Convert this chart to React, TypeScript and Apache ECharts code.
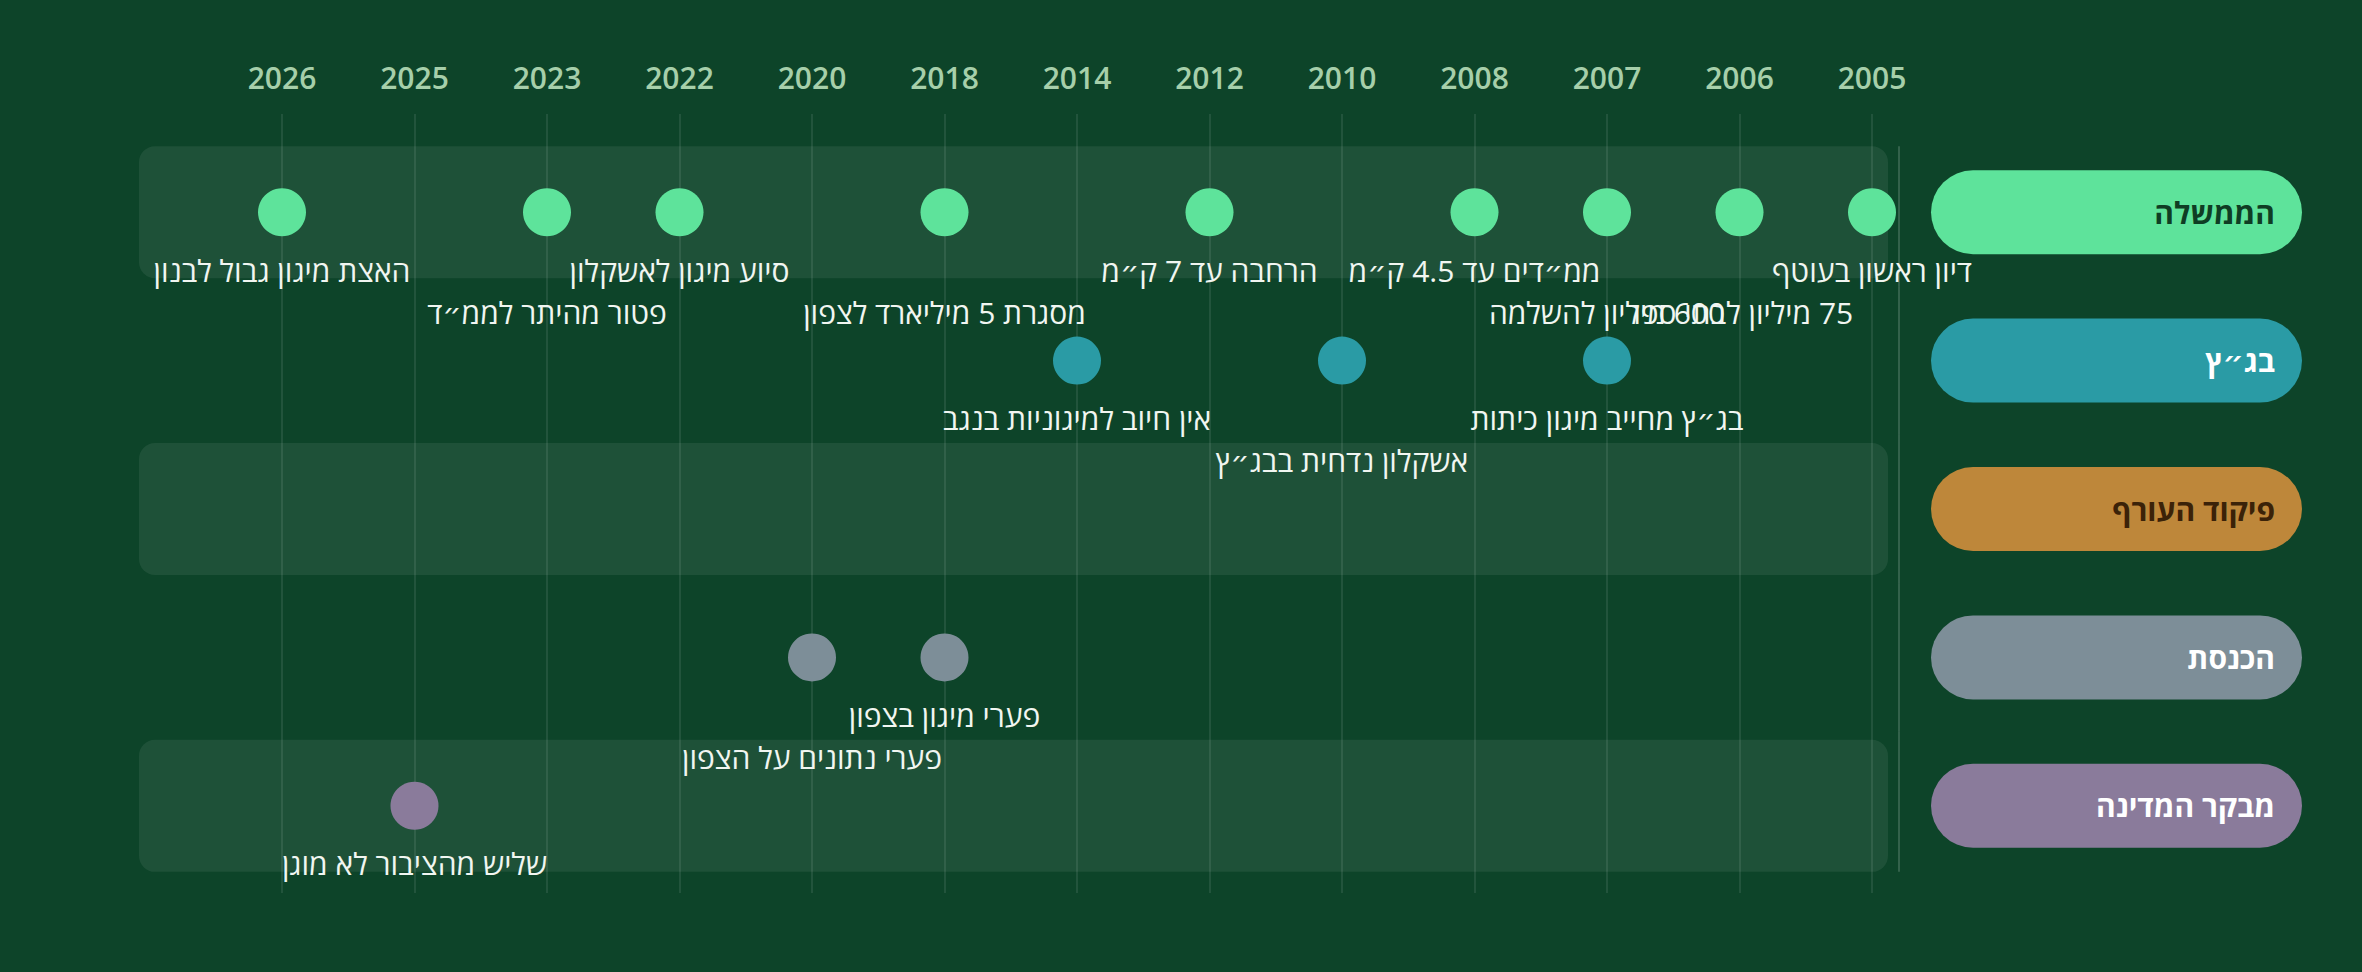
import { useEffect, useRef } from "react";
import * as echarts from "echarts";

const YEARS = ["2005", "2006", "2007", "2008", "2010", "2012", "2014", "2018", "2020", "2022", "2023", "2025", "2026"];
const LANES = ["הממשלה", "בג״ץ", "פיקוד העורף", "הכנסת", "מבקר המדינה"];
const LANE_COLORS = ["#5ee39b", "#2a9ba5", "#be873a", "#7d8e98", "#8a7b9b"];
const LANE_TEXT = ["#0f3d24", "#ffffff", "#3b2208", "#ffffff", "#ffffff"];

// events: year, lane index, caption, caption row (0 = first line, 1 = second line)
const EVENT_YEARS = ["2005", "2006", "2007", "2008", "2012", "2018", "2022", "2023", "2026", "2007", "2010", "2014", "2018", "2020", "2025"];
const EVENT_LANES = [0, 0, 0, 0, 0, 0, 0, 0, 0, 1, 1, 1, 3, 3, 4];
const EVENT_LABELS = [
  "דיון ראשון בעוטף",
  "75 מיליון לבתי ספר",
  "600 מיליון להשלמה",
  "ממ״דים עד 4.5 ק״מ",
  "הרחבה עד 7 ק״מ",
  "מסגרת 5 מיליארד לצפון",
  "סיוע מיגון לאשקלון",
  "פטור מהיתר לממ״ד",
  "האצת מיגון גבול לבנון",
  "בג״ץ מחייב מיגון כיתות",
  "אשקלון נדחית בבג״ץ",
  "אין חיוב למיגוניות בנגב",
  "פערי מיגון בצפון",
  "פערי נתונים על הצפון",
  "שליש מהציבור לא מוגן",
];
const EVENT_ROWS = [0, 1, 1, 0, 0, 1, 0, 1, 0, 0, 1, 0, 0, 1, 0];

const FONT = "'Open Sans', 'DejaVu Sans', sans-serif";
const BG = "#0d4429";
const BAND = "rgba(255,255,255,0.07)";

export default function App() {
  const ref = useRef<HTMLDivElement>(null);
  useEffect(() => {
    if (!ref.current) return;
    const chart = echarts.init(ref.current, null, { renderer: "svg" });

    const rich: Record<string, any> = {};
    LANES.forEach((_, i) => {
      rich["p" + i] = {
        width: 344,
        height: 84,
        lineHeight: 84,
        align: "right",
        padding: [0, 27, 0, 0],
        backgroundColor: LANE_COLORS[i],
        borderRadius: 42,
        color: LANE_TEXT[i],
        fontSize: 30,
        fontWeight: "bold",
        fontFamily: FONT,
      };
    });

    const laneSeries = LANES.map((lane, li) => ({
      type: "scatter",
      name: lane,
      xAxisIndex: 1,
      yAxisIndex: 1,
      symbolSize: 48,
      z: 3,
      itemStyle: { color: LANE_COLORS[li], opacity: 1 },
      label: {
        show: true,
        position: "inside",
        formatter: (p: any) => "\u200F" + p.name,
        color: "#f1f6f1",
        fontSize: 30,
        fontFamily: FONT,
      },
      data: EVENT_YEARS.map((y, k) => ({ k, y }))
        .filter((e) => EVENT_LANES[e.k] === li)
        .map((e) => ({
          name: EVENT_LABELS[e.k],
          value: [e.y, lane],
          label: { offset: [0, EVENT_ROWS[e.k] ? 100 : 58] },
        })),
    }));

    const option: any = {
      animation: false,
      backgroundColor: BG,
      textStyle: { fontFamily: FONT },
      grid: [
        { left: 282, right: 490, top: 114, bottom: 79 },
        { left: 282, right: 490, top: 138, bottom: 92 },
      ],
      xAxis: [
        {
          type: "category",
          gridIndex: 0,
          data: YEARS,
          inverse: true,
          boundaryGap: false,
          position: "top",
          axisLine: { show: false },
          axisTick: { show: false },
          axisLabel: { color: "#a6cfaa", fontSize: 30, fontWeight: 600, margin: 22, fontFamily: FONT },
          splitLine: { show: true, lineStyle: { color: "rgba(255,255,255,0.09)", width: 2 } },
        },
        {
          type: "category",
          gridIndex: 1,
          data: YEARS,
          inverse: true,
          boundaryGap: false,
          show: false,
        },
      ],
      yAxis: [
        { type: "value", gridIndex: 0, show: false, min: 0, max: 1 },
        {
          type: "category",
          gridIndex: 1,
          data: LANES,
          inverse: true,
          position: "right",
          axisLine: { show: false },
          axisTick: { show: false },
          splitLine: { show: false },
          axisLabel: {
            margin: 59,
            formatter: (v: string, i: number) => `{p${i}|${v}}`,
            rich,
          },
        },
      ],
      series: [
        {
          type: "custom",
          xAxisIndex: 1,
          yAxisIndex: 1,
          silent: true,
          z: 1,
          data: LANES.map((_, i) => [0, i]),
          renderItem: (params: any, api: any) => {
            const i = api.value(1);
            const cs = params.coordSys;
            const cy = api.coord([0, i])[1];
            const laneH = api.size([0, 1])[1];
            const half = laneH * 0.445;
            const children: any[] = [];
            if (i % 2 === 0) {
              children.push({
                type: "rect",
                shape: { x: cs.x - 143, y: cy - half, width: cs.width + 159, height: half * 2, r: 16 },
                style: { fill: BAND },
              });
            }
            const sx = cs.x + cs.width + 27;
            children.push({
              type: "line",
              shape: {
                x1: sx,
                y1: i === 0 ? cy - half : cy - laneH / 2,
                x2: sx,
                y2: i === LANES.length - 1 ? cy + half : cy + laneH / 2,
              },
              style: { stroke: "rgba(255,255,255,0.16)", lineWidth: 2 },
            });
            return { type: "group", children };
          },
        },
        ...laneSeries,
      ],
    };
    chart.setOption(option);
    const onResize = () => chart.resize();
    window.addEventListener("resize", onResize);
    return () => {
      window.removeEventListener("resize", onResize);
      chart.dispose();
    };
  }, []);
  return (
    <div
      ref={ref}
      style={{ position: "fixed", left: 0, top: 0, width: "100vw", height: "100vh" }}
      aria-label="ציר זמן מיגון"
    />
  );
}
